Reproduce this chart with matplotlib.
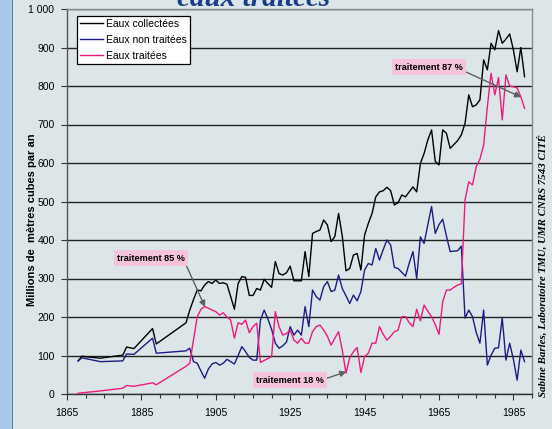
import matplotlib
matplotlib.use('Agg')
import matplotlib.pyplot as plt
from matplotlib.patches import Rectangle
from matplotlib.ticker import MultipleLocator

# Data (millions of m3 per year)
years = [1868, 1869, 1874, 1880, 1881, 1883, 1888, 1889, 1897, 1898] + list(range(1899, 1989))

collectees = [86, 98, 93, 101, 122, 118, 170, 130, 185, 218,
              245, 270, 268, 283, 292, 287, 296, 287, 289, 285,
              253, 220, 287, 305, 303, 256, 256, 274, 270, 298,
              287, 277, 344, 313, 309, 315, 332, 294, 294, 294,
              370, 305, 417, 422, 426, 452, 439, 396, 409, 469,
              410, 320, 326, 361, 365, 322, 413, 443, 469, 512,
              525, 528, 537, 528, 491, 497, 517, 512, 525, 538,
              525, 599, 625, 660, 686, 604, 595, 686, 677, 638,
              648, 658, 673, 703, 777, 746, 751, 764, 868, 842,
              911, 894, 944, 911, 922, 935, 894, 837, 900, 824]

non_traitees = [86, 94, 84, 86, 104, 103, 145, 106, 112, 119,
                84, 80, 60, 41, 65, 78, 82, 75, 80, 90,
                84, 78, 100, 123, 110, 95, 88, 88, 192, 218,
                195, 168, 132, 119, 125, 135, 175, 153, 166, 153,
                227, 175, 270, 253, 244, 279, 292, 266, 270, 309,
                274, 255, 235, 257, 242, 266, 322, 339, 335, 378,
                348, 375, 400, 387, 329, 326, 316, 306, 340, 370,
                300, 408, 391, 440, 487, 417, 440, 454, 410, 370,
                371, 372, 384, 197, 218, 201, 160, 132, 218, 75,
                101, 119, 120, 197, 88, 132, 90, 36, 114, 84]

traitees = [2, 3, 8, 15, 22, 20, 29, 24, 72, 80,
            140, 200, 220, 227, 223, 218, 214, 205, 211, 200,
            192, 145, 185, 181, 192, 159, 175, 184, 82, 87,
            92, 97, 214, 175, 153, 157, 166, 140, 132, 145,
            132, 132, 162, 175, 179, 166, 150, 127, 145, 162,
            114, 54, 94, 110, 121, 56, 97, 106, 132, 132,
            175, 155, 140, 150, 162, 166, 201, 201, 185, 175,
            220, 190, 231, 215, 201, 180, 155, 240, 270, 270,
            277, 283, 286, 504, 551, 543, 590, 610, 647, 746,
            833, 777, 822, 712, 829, 800, 798, 795, 772, 742]

series_labels = ['Eaux collectées', 'Eaux non traitées', 'Eaux traitées']
series_colors = ['#000000', '#1c1c82', '#ec1a80']

notes = ['traitement 87 %', 'traitement 85 %', 'traitement 18 %']
note_text_pos = [(1962.4, 849), (1887.6, 353), (1925.0, 36)]
note_targets = [(1987.1, 771), (1902.1, 226), (1940.1, 58)]
note_relpos = [(1.0, 0.1), (1.0, 0.0), (1.0, 0.6)]

narrow = ['Liberation Sans Narrow', 'Liberation Sans', 'DejaVu Sans']
serif = ['Liberation Serif', 'DejaVu Serif']

bg = '#dce6e8'
fig = plt.figure(figsize=(5.52, 4.29), dpi=100, facecolor=bg)
ax = fig.add_axes([67 / 552, 1 - 394 / 429, 465 / 552, 385 / 429])
ax.set_facecolor(bg)

# slide background strip on the left
fig.patches.append(Rectangle((0, 0), 12 / 552, 1, transform=fig.transFigure,
                             facecolor='#a8c8ea', edgecolor='none', zorder=0))
fig.patches.append(Rectangle((12 / 552, 0), 1.2 / 552, 1, transform=fig.transFigure,
                             facecolor='#4f7fb5', edgecolor='none', zorder=0))

for vals, lab, col in zip([collectees, non_traitees, traitees], series_labels, series_colors):
    ax.plot(years, vals, color=col, lw=1.0, label=lab, zorder=3)

ax.set_xlim(1865, 1990)
ax.set_ylim(0, 1000)
ax.set_xticks(range(1865, 1986, 20))
ax.xaxis.set_minor_locator(MultipleLocator(5))
ax.set_yticks(range(0, 1001, 100))
ax.set_yticklabels(['0'] + [str(v) for v in range(100, 1000, 100)] + ['1 000'])
ax.yaxis.grid(True, color='#222222', lw=1.0)
ax.set_axisbelow(True)
ax.tick_params(axis='both', which='both', direction='out', colors='#333333',
               labelcolor='black', labelsize=7.5, width=0.8)
ax.tick_params(axis='x', which='major', length=4, pad=6)
ax.tick_params(axis='x', which='minor', length=3)
ax.tick_params(axis='y', length=4, pad=5)
for lbl in ax.get_xticklabels() + ax.get_yticklabels():
    lbl.set_family(narrow)

for side, col in [('top', '#8a8a8a'), ('right', '#8a8a8a'), ('left', '#555555'), ('bottom', '#333333')]:
    ax.spines[side].set_color(col)
    ax.spines[side].set_linewidth(1.0)

leg = ax.legend(loc='upper left', bbox_to_anchor=(0.0215, 0.982), borderaxespad=0,
                fancybox=False, framealpha=1, edgecolor='black', facecolor='white',
                handlelength=2.2, handletextpad=0.3, labelspacing=0.55,
                borderpad=0.3, prop={'family': narrow, 'size': 7.5})
leg.get_frame().set_linewidth(0.9)

for txt, pos, tgt, rp in zip(notes, note_text_pos, note_targets, note_relpos):
    ax.annotate(txt, xy=tgt, xytext=pos, ha='center', va='center',
                fontsize=6.6, fontweight='bold', family=narrow,
                bbox=dict(boxstyle='square,pad=0.35', facecolor='#f5c4dc', edgecolor='none'),
                arrowprops=dict(arrowstyle='-|>', color='#5f5f5f', lw=1.0,
                                mutation_scale=9, relpos=rp, shrinkA=0, shrinkB=0),
                zorder=5)

fig.text(32 / 552, 1 - 220 / 429, 'Millions de  mètres cubes par an', rotation=90,
         ha='center', va='center', fontsize=8, fontweight='bold', family=narrow)

fig.text(543 / 552, 1 - 266 / 429, 'Sabine Barles, Laboratoire TMU, UMR CNRS 7543 CITÉ',
         rotation=90, ha='center', va='center', fontsize=7.8, fontweight='bold',
         style='italic', family=serif)

# title of the slide, cut by the top edge as in the reference
fig.text(254 / 552, 1 - 6 / 429, 'eaux traitées', ha='center', va='baseline',
         fontsize=21, fontweight='bold', style='italic', family=serif, color='#1b3c86')

fig.savefig('out.png', dpi=100, facecolor=bg)
